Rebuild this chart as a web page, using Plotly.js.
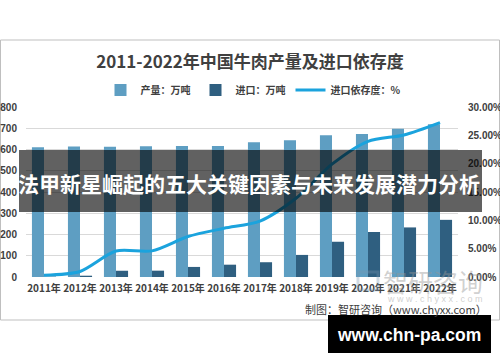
<!DOCTYPE html>
<html>
<head>
<meta charset="utf-8">
<script src="https://cdn.plot.ly/plotly-3.0.1.min.js"></script>
<style>
  html, body { margin: 0; padding: 0; background: #ffffff; }
  #chart { width: 500px; height: 362px; }
</style>
</head>
<body>
<div id="chart"></div>
<script>
// ---- data ----
const years = ['2011年','2012年','2013年','2014年','2015年','2016年','2017年','2018年','2019年','2020年','2021年','2022年'];
const production = [610.4, 614.7, 613.1, 615.7, 616.9, 616.9, 634.6, 644.1, 667.3, 672.5, 697.5, 718.3];   // 万吨
const imports = [2.0, 6.1, 29.4, 29.8, 47.4, 58.0, 69.5, 103.9, 165.9, 211.8, 233.3, 269.0];              // 万吨
const dependency = [0.33, 0.98, 4.58, 4.61, 7.14, 8.59, 9.87, 13.89, 19.91, 23.95, 25.07, 27.25];          // %
const leftTicks = [0, 100, 200, 300, 400, 500, 600, 700, 800];
const rightTicks = [0, 5, 10, 15, 20, 25, 30];

// ---- layout helpers (pixel -> paper) ----
const L = 26, R = 458, T = 107, B = 277;
const W = R - L, H = B - T;
const xp = px => (px - L) / W;
const yp = py => (B - py) / H;

const CJK = '"Noto Sans CJK SC", "Liberation Sans", sans-serif';
const NUM = '"Liberation Sans", "Noto Sans CJK SC", sans-serif';

const traces = [
  {
    type: 'bar', name: '产量：万吨', x: years, y: production,
    marker: { color: '#5e9ec2', line: { width: 0 } }
  },
  {
    type: 'bar', name: '进口：万吨', x: years, y: imports,
    marker: { color: '#2f5f80', line: { width: 0 } }
  },
  {
    type: 'scatter', mode: 'lines', name: '进口依存度：%', x: years, y: dependency, yaxis: 'y2',
    line: { color: '#1ba3dd', width: 3, shape: 'spline', smoothing: 0.8 }
  }
];

const layout = {
  width: 500, height: 362,
  margin: { l: L, r: 500 - R, t: T, b: 362 - B, pad: 0 },
  paper_bgcolor: '#ffffff', plot_bgcolor: '#ffffff',
  showlegend: true,
  title: {
    text: '<b>2011-2022年中国牛肉产量及进口依存度</b>',
    font: { family: CJK, size: 17, color: '#404040' },
    x: 0.5, xanchor: 'center', xref: 'container',
    y: 1 - 62 / 362, yanchor: 'middle', yref: 'container'
  },
  legend: {
    orientation: 'h', xref: 'container', yref: 'container',
    x: 253 / 500, xanchor: 'center', y: 1 - 90 / 362, yanchor: 'middle',
    font: { family: CJK, size: 10, color: '#404040', weight: 'bold' },
    bgcolor: 'rgba(0,0,0,0)', itemwidth: 30, tracegroupgap: 0
  },
  barmode: 'group', bargap: 0.33, bargroupgap: 0,
  xaxis: {
    type: 'category', range: [-0.5, 11.5],
    showgrid: false, zeroline: false, showline: false, ticks: '',
    tickfont: { family: CJK, size: 10, color: '#404040', weight: 'bold' },
    ticklabelstandoff: 4
  },
  yaxis: {
    range: [0, 800], tickvals: leftTicks, ticktext: leftTicks.map(String),
    showgrid: true, gridcolor: '#d9d9d9', gridwidth: 1,
    zeroline: false, showline: false, ticks: '',
    tickfont: { family: NUM, size: 10, color: '#404040', weight: 'bold' },
    ticklabelstandoff: 8
  },
  yaxis2: {
    overlaying: 'y', side: 'right', range: [0, 30],
    tickvals: rightTicks, ticktext: rightTicks.map(v => v.toFixed(2) + '%'),
    showgrid: false, zeroline: false, showline: false, ticks: '',
    tickfont: { family: NUM, size: 10, color: '#404040', weight: 'bold' },
    ticklabelstandoff: 9
  },
  shapes: [
    { type: 'rect', xref: 'paper', yref: 'paper', layer: 'below',
      x0: xp(0.5), x1: xp(499.5), y0: yp(40), y1: yp(320),
      line: { color: '#bfbfbf', width: 1 }, fillcolor: 'rgba(0,0,0,0)' },
    { type: 'rect', xref: 'paper', yref: 'paper', layer: 'above',
      x0: xp(358), x1: xp(378), y0: yp(272), y1: yp(290),
      line: { color: 'rgba(120,150,175,0.35)', width: 3 }, fillcolor: 'rgba(0,0,0,0)' },
    { type: 'rect', xref: 'paper', yref: 'paper', layer: 'above',
      x0: xp(19), x1: xp(482), y0: yp(150), y1: yp(212),
      line: { width: 0 }, fillcolor: 'rgba(0,0,0,0.62)' },
    { type: 'rect', xref: 'paper', yref: 'paper', layer: 'above',
      x0: xp(328), x1: xp(491), y0: yp(315), y1: yp(353),
      line: { width: 0 }, fillcolor: '#000000' }
  ],
  annotations: [
    { xref: 'paper', yref: 'paper', x: xp(433), y: yp(281), xanchor: 'center', yanchor: 'middle',
      text: '智研咨询', showarrow: false,
      font: { family: CJK, size: 25, color: 'rgba(150,150,150,0.45)' } },
    { xref: 'paper', yref: 'paper', x: xp(435), y: yp(299), xanchor: 'center', yanchor: 'middle',
      text: 'w w w . c h y x x . c o m', showarrow: false,
      font: { family: NUM, size: 9, color: 'rgba(160,160,160,0.5)' } },
    { xref: 'paper', yref: 'paper', x: xp(489), y: yp(309), xanchor: 'right', yanchor: 'middle',
      text: '制图：智研咨询（www.chyxx.com）', showarrow: false,
      font: { family: CJK, size: 11, color: '#404040' } },
    { xref: 'paper', yref: 'paper', x: xp(249), y: yp(183), xanchor: 'center', yanchor: 'middle',
      text: '<b>法甲新星崛起的五大关键因素与未来发展潜力分析</b>', showarrow: false,
      font: { family: CJK, size: 21, color: '#ffffff' } },
    { xref: 'paper', yref: 'paper', x: xp(409), y: yp(335), xanchor: 'center', yanchor: 'middle',
      text: '<b>www.chn-pa.com</b>', showarrow: false,
      font: { family: NUM, size: 17.5, color: '#ffffff' } }
  ]
};

Plotly.newPlot('chart', traces, layout, { displayModeBar: false, staticPlot: true });
</script>
</body>
</html>
